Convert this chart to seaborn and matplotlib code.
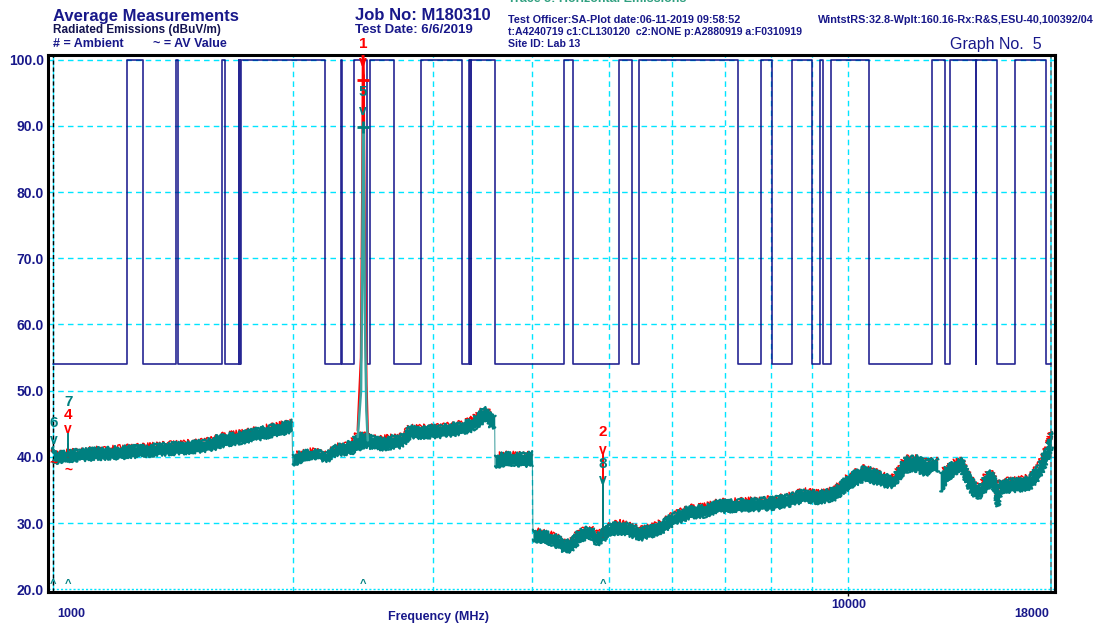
import numpy as np
import pandas as pd
import matplotlib
matplotlib.use("Agg")
import matplotlib.pyplot as plt
import matplotlib.transforms as mtransforms
import seaborn as sns

# ── STYLE ─────────────────────────────────────────────────
sns.set_theme(style="white")
plt.rcParams["font.family"] = ["Liberation Sans", "DejaVu Sans"]

NAVY = "#000080"
TXT = "#18188a"
TEAL = "#008080"
RED = "#ff0000"
CYAN = "#00e5ff"

# ── DATA ──────────────────────────────────────────────────
# blue limit trace: toggles between two levels at these frequencies (MHz)
blue_levels = [54.1, 100.0]
blue_edges = [1239, 1298, 1425, 1433, 1629, 1646, 1711, 1714, 1717, 1719, 1722,
              2196, 2299, 2309, 2391, 2483, 2502, 2685, 2898, 3263,
              3333, 3338, 3343, 3348, 3353, 3594, 4393, 4505, 5151, 5349,
              5458, 7259, 7760, 8025, 8503, 9008, 9211, 9292, 9501, 10609,
              12733, 13245, 13426, 14460, 14490, 15371, 16208, 17748]

# measured trace, low / high edge of the band (dBuV/m)
seg1_f = [1000, 1004, 1020, 1080, 1145, 1213, 1323, 1443, 1529, 1580, 1621,
          1700, 1760, 1820, 1928, 1996]
seg1_lo = [39.5, 39.2, 39.3, 39.6, 39.8, 39.9, 40.3, 40.6, 40.9, 41.1, 41.6,
           42.1, 42.4, 42.8, 43.4, 43.9]
seg1_hi = [41.5, 40.6, 40.6, 41.0, 41.2, 41.4, 41.7, 42.1, 42.3, 42.6, 43.2,
           43.6, 43.9, 44.3, 44.9, 45.4]

seg2_f = [2000, 2060, 2123, 2208, 2270, 2330, 2381, 2415, 2486, 2530, 2578,
          2650, 2727, 2780, 2806, 2900, 3066, 3150, 3263, 3350, 3411, 3476,
          3500, 3534, 3590]
seg2_lo = [38.9, 39.4, 40.0, 39.4, 40.4, 40.5, 40.7, 41.2, 41.6, 41.3, 41.2,
           41.4, 41.5, 42.3, 43.0, 43.0, 43.1, 43.3, 43.6, 44.0, 44.6, 45.3,
           45.6, 44.8, 44.3]
seg2_hi = [40.3, 40.7, 41.0, 40.5, 41.6, 41.9, 42.5, 43.5, 43.2, 42.9, 42.8,
           43.0, 43.0, 43.8, 44.5, 44.5, 44.6, 44.8, 45.1, 45.6, 46.3, 47.2,
           47.3, 46.6, 46.0]

seg3_f = [3594, 3700, 3800, 3900, 4005]
seg3_lo = [38.6, 38.8, 38.9, 38.7, 38.9]
seg3_hi = [40.2, 40.5, 40.4, 40.4, 40.6]

seg4_f = [4011, 4153, 4270, 4402, 4490, 4595, 4730, 4840, 4913, 5050, 5170,
          5330, 5480, 5630, 5831, 6040, 6322, 6590, 6880, 7300, 7760, 8100,
          8420, 8800, 9200, 9620, 10050, 10500, 10960, 11380, 11790, 12210,
          12490, 12850, 12960]
seg4_lo = [27.5, 27.1, 26.7, 25.7, 25.9, 27.4, 27.9, 26.7, 27.4, 28.4, 28.6,
           28.1, 27.6, 28.0, 28.7, 29.9, 30.9, 31.1, 31.8, 31.9, 32.1, 32.3,
           32.7, 33.4, 33.1, 33.7, 35.5, 36.6, 35.8, 35.5, 37.9, 38.0, 37.3,
           38.0, 37.6]
seg4_hi = [29.0, 28.6, 28.2, 27.2, 27.4, 28.9, 29.4, 28.2, 28.9, 29.9, 30.1,
           29.6, 29.1, 29.5, 30.2, 31.4, 32.4, 32.6, 33.3, 33.4, 33.6, 33.8,
           34.2, 34.9, 34.6, 35.2, 37.3, 38.5, 37.5, 36.8, 39.8, 40.0, 39.3,
           39.6, 39.4]

seg5_f = [13050, 13300, 13620, 13900, 14230, 14500, 14650, 14990, 15230,
          15430, 15570, 16210, 16930, 17430, 17830, 18000]
seg5_lo = [34.8, 36.3, 37.6, 37.8, 35.0, 33.8, 34.0, 35.5, 35.3, 32.6, 34.8,
           34.9, 35.3, 37.0, 39.8, 41.5]
seg5_hi = [37.6, 38.4, 39.3, 39.6, 36.8, 35.8, 35.6, 37.8, 37.3, 34.3, 36.4,
           36.6, 37.0, 39.0, 41.8, 43.8]

# 2.45 GHz peak
peak_f = [2415, 2438, 2447, 2452, 2456, 2465, 2476, 2486]
peak_teal = [43.0, 50.0, 70.0, 90.0, 90.0, 62.0, 47.0, 42.5]
peak_red = [44.0, 55.0, 80.0, 100.7, 97.0, 70.0, 51.0, 43.5]

# narrow spikes: freq, teal top, red top
spike_f = [1044, 4913]
spike_teal = [43.6, 36.5]
spike_red = [42.0, 40.6]

# marker annotations: text, freq, level, colour
marks = [
    ("1", 2453, 102.3, RED), ("v", 2453, 99.6, RED), ("+", 2453, 96.9, RED),
    ("5", 2453, 95.1, TEAL), ("v", 2453, 92.3, TEAL), ("+", 2453, 89.8, TEAL),
    ("2", 4913, 43.7, RED), ("v", 4913, 41.0, RED),
    ("8", 4913, 39.0, TEAL), ("v", 4913, 36.5, TEAL),
    ("7", 1044, 48.3, TEAL), ("4", 1044, 46.3, RED), ("v", 1044, 44.2, RED),
    ("~", 1044, 38.0, RED),
    ("6", 1000, 45.1, TEAL), ("v", 1000, 42.5, TEAL), ("~", 1000, 39.2, RED),
]
base_marks = [1000, 1044, 2453, 4913]

y_ticks = [20, 30, 40, 50, 60, 70, 80, 90, 100]
x_grid = [2000, 3000, 4000, 5000, 6000, 7000, 8000, 9000, 10000]

# ── FIGURE ────────────────────────────────────────────────
W, H = 1108, 628
fig = plt.figure(figsize=(W / 100, H / 100), dpi=100)
fig.patch.set_facecolor("white")
ax = fig.add_axes([48 / W, 1 - 592 / H, (1055 - 48) / W, (592 - 55) / H])
ax.set_xscale("log")
ax.set_xlim(984.5, 18200)
ax.set_ylim(19.6, 100.7)

# grid
for yv in y_ticks[1:]:
    ax.axhline(yv, color=CYAN, lw=1, ls=(0, (4, 3)), zorder=1)
ax.axhline(20, color=CYAN, lw=1, ls=(0, (1.5, 1.5)), zorder=1)
for xv in x_grid:
    ax.axvline(xv, color=CYAN, lw=1, ls=(0, (4, 3)), zorder=1)
ax.axvline(1000, color=CYAN, lw=1, zorder=1)
ax.axvline(1000, color="black", lw=1, ls=(0, (3, 2)), zorder=1)
ax.axvline(18000, color=CYAN, lw=1.2, zorder=1)
ax.axvline(18000, color="#777777", lw=1.2, ls=(0, (3, 2)), zorder=1)

# blue step trace
bx, by = [1000], [blue_levels[0]]
state = 0
for e in blue_edges:
    bx += [e, e]
    by += [blue_levels[state], blue_levels[1 - state]]
    state = 1 - state
bx.append(18000)
by.append(blue_levels[state])
sns.lineplot(x=bx, y=by, ax=ax, sort=False, estimator=None,
             color=NAVY, lw=1.2, alpha=0.85, zorder=2)

# measured band (sketch params give the ragged receiver-noise look)
for f, lo, hi in [(seg1_f, seg1_lo, seg1_hi), (seg2_f, seg2_lo, seg2_hi),
                  (seg3_f, seg3_lo, seg3_hi), (seg4_f, seg4_lo, seg4_hi),
                  (seg5_f, seg5_lo, seg5_hi)]:
    r, = ax.plot(f, hi, color=RED, lw=1.0, zorder=3)
    r.set_sketch_params(scale=3.0, length=3, randomness=6)
    ax.fill_between(f, lo, hi, color=TEAL, lw=0, zorder=4)
    t1, = ax.plot(f, hi, color=TEAL, lw=1.6, zorder=4)
    t1.set_sketch_params(scale=2.0, length=1.5, randomness=4)
    t2, = ax.plot(f, lo, color=TEAL, lw=1.6, zorder=4)
    t2.set_sketch_params(scale=2.0, length=1.5, randomness=4)

# segment joins (vertical steps)
for f_end, f_start, a, b in [(seg1_f[-1], seg2_f[0], seg1_hi[-1], seg2_lo[0]),
                             (seg2_f[-1], seg3_f[0], seg2_hi[-1], seg3_lo[0]),
                             (seg3_f[-1], seg4_f[0], seg3_lo[-1], seg4_hi[0])]:
    ax.plot([f_end, f_start], [a, b], color=TEAL, lw=0.8, alpha=0.7, zorder=4)

# 2.45 GHz peak
sns.lineplot(x=peak_f, y=peak_red, ax=ax, sort=False, estimator=None,
             color=RED, lw=1.8, zorder=5)
sns.lineplot(x=peak_f, y=peak_teal, ax=ax, sort=False, estimator=None,
             color="#3aa5a0", lw=1.8, zorder=6)

for f, t, r, lo in zip(spike_f, spike_teal, spike_red, [seg1_hi[3], seg4_hi[8]]):
    ax.plot([f, f], [lo - 1, r], color=RED, lw=1.4, zorder=5)
    ax.plot([f, f], [lo - 1, t], color=TEAL, lw=1.4, zorder=6)

for txt, f, lv, col in marks:
    if txt == "+":
        ax.plot([f], [lv], marker="+", ms=9, mew=2, color=col, zorder=7,
                clip_on=False)
    else:
        ax.text(f, lv, txt, color=col, fontsize=11 if txt.isdigit() else 10,
                weight="bold", ha="center", va="center", zorder=7,
                clip_on=False)
for f in base_marks:
    ax.text(f, 20.8, "^", color=TEAL, fontsize=8, weight="bold",
            ha="center", va="center", zorder=7)

# ── AXES ──────────────────────────────────────────────────
for s in ax.spines.values():
    s.set_color("black")
    s.set_linewidth(2.2)
ax.set_yticks(y_ticks)
ax.set_yticklabels([f"{v:.1f}" for v in y_ticks], color=TXT, fontsize=10,
                   weight="bold")
ax.set_xticks([10000])
ax.set_xticklabels(["10000"], color=TXT, fontsize=9, weight="bold")
ax.xaxis.set_minor_locator(matplotlib.ticker.NullLocator())
ax.tick_params(axis="y", length=0, pad=3)
ax.tick_params(axis="x", length=3, width=1, color="black", pad=2,
               bottom=True)

trans = mtransforms.blended_transform_factory(ax.transData, fig.transFigure)
ax.text(1012, 1 - 614 / H, "1000", transform=trans, color=TXT, fontsize=9,
        weight="bold", ha="left", va="center")
ax.text(17900, 1 - 614 / H, "18000", transform=trans, color=TXT, fontsize=9,
        weight="bold", ha="right", va="center")
fig.text(438 / W, 1 - 617 / H, "Frequency (MHz)", color=TXT, fontsize=9,
         weight="bold", ha="center", va="center")

# ── HEADER ────────────────────────────────────────────────
def head(x, y, s, size, color=TXT, weight="bold", ha="left"):
    fig.text(x / W, 1 - y / H, s, fontsize=size, color=color, weight=weight,
             ha=ha, va="center")

head(53, 16, "Average Measurements", 12)
head(53, 30, "Radiated Emissions (dBuV/m)", 8.5, color="#141450")
head(53, 44, "# = Ambient", 9)
head(153, 44, "~ = AV Value", 9)
head(355, 16, "Job No: M180310", 12)
head(355, 30, "Test Date: 6/6/2019", 9.5)
head(508, -1, "Trace 5: Horizontal Emissions", 9, color="#30a080")
head(508, 20, "Test Officer:SA-Plot date:06-11-2019 09:58:52", 7.8)
head(818, 20, "WintstRS:32.8-Wplt:160.16-Rx:R&S,ESU-40,100392/04", 7.8)
head(508, 32, "t:A4240719 c1:CL130120  c2:NONE p:A2880919 a:F0310919", 7.6)
head(508, 44, "Site ID: Lab 13", 7.6)
head(950, 44, "Graph No.  5", 11.5, weight="normal")

fig.savefig("out.png", dpi=100)
